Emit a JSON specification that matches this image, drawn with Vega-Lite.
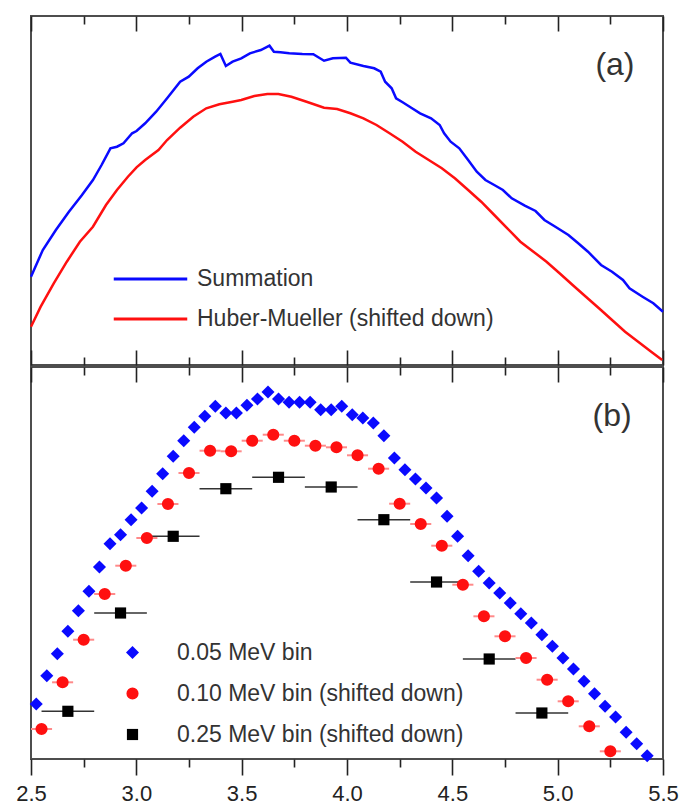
{
  "$schema": "https://vega.github.io/schema/vega-lite/v6.json",
  "padding": {"left": 14, "top": 14, "right": 5, "bottom": 0},
  "background": "white",
  "spacing": -4,
  "config": {
    "view": {"stroke": "#4d4d4d", "strokeWidth": 2},
    "font": "Liberation Sans",
    "axis": {"grid": false, "domain": false, "title": null, "labelFlush": false, "tickColor": "#222", "tickWidth": 1.6, "labelFont": "Liberation Sans", "labelFontSize": 22, "labelColor": "#222"},
    "legend": {"labelFont": "Liberation Sans", "labelFontSize": 23, "labelColor": "#333", "labelLimit": 500, "title": null}
  },
  "resolve": {"scale": {"color": "independent", "shape": "independent", "size": "independent", "x": "shared"}, "legend": {"color": "independent", "shape": "independent", "size": "independent"}},
  "datasets": {
    "spectra": [
      {"series": "Summation", "x": 2.500, "v": 88.3},
      {"series": "Summation", "x": 2.556, "v": 115},
      {"series": "Summation", "x": 2.618, "v": 135},
      {"series": "Summation", "x": 2.680, "v": 153.3},
      {"series": "Summation", "x": 2.742, "v": 170},
      {"series": "Summation", "x": 2.794, "v": 185},
      {"series": "Summation", "x": 2.835, "v": 200},
      {"series": "Summation", "x": 2.877, "v": 216.7},
      {"series": "Summation", "x": 2.908, "v": 218.3},
      {"series": "Summation", "x": 2.939, "v": 221.7},
      {"series": "Summation", "x": 2.980, "v": 231.7},
      {"series": "Summation", "x": 3.001, "v": 234},
      {"series": "Summation", "x": 3.042, "v": 241.7},
      {"series": "Summation", "x": 3.094, "v": 253.3},
      {"series": "Summation", "x": 3.146, "v": 266.7},
      {"series": "Summation", "x": 3.208, "v": 283.3},
      {"series": "Summation", "x": 3.249, "v": 288.3},
      {"series": "Summation", "x": 3.291, "v": 296.7},
      {"series": "Summation", "x": 3.332, "v": 303.3},
      {"series": "Summation", "x": 3.374, "v": 308.3},
      {"series": "Summation", "x": 3.399, "v": 311},
      {"series": "Summation", "x": 3.425, "v": 299},
      {"series": "Summation", "x": 3.457, "v": 303.3},
      {"series": "Summation", "x": 3.498, "v": 306.7},
      {"series": "Summation", "x": 3.539, "v": 311.7},
      {"series": "Summation", "x": 3.591, "v": 315},
      {"series": "Summation", "x": 3.632, "v": 319.3},
      {"series": "Summation", "x": 3.653, "v": 313.3},
      {"series": "Summation", "x": 3.684, "v": 312.7},
      {"series": "Summation", "x": 3.726, "v": 311.7},
      {"series": "Summation", "x": 3.788, "v": 311},
      {"series": "Summation", "x": 3.840, "v": 310.7},
      {"series": "Summation", "x": 3.891, "v": 304.3},
      {"series": "Summation", "x": 3.933, "v": 306.7},
      {"series": "Summation", "x": 3.995, "v": 307.3},
      {"series": "Summation", "x": 4.016, "v": 302.3},
      {"series": "Summation", "x": 4.078, "v": 299},
      {"series": "Summation", "x": 4.129, "v": 296.7},
      {"series": "Summation", "x": 4.160, "v": 293.3},
      {"series": "Summation", "x": 4.181, "v": 283.3},
      {"series": "Summation", "x": 4.212, "v": 276.7},
      {"series": "Summation", "x": 4.233, "v": 266.7},
      {"series": "Summation", "x": 4.264, "v": 262.7},
      {"series": "Summation", "x": 4.305, "v": 257.3},
      {"series": "Summation", "x": 4.347, "v": 251.7},
      {"series": "Summation", "x": 4.399, "v": 246.7},
      {"series": "Summation", "x": 4.440, "v": 240},
      {"series": "Summation", "x": 4.461, "v": 231.7},
      {"series": "Summation", "x": 4.492, "v": 223.3},
      {"series": "Summation", "x": 4.533, "v": 216.7},
      {"series": "Summation", "x": 4.575, "v": 205},
      {"series": "Summation", "x": 4.616, "v": 193.3},
      {"series": "Summation", "x": 4.657, "v": 185},
      {"series": "Summation", "x": 4.699, "v": 180},
      {"series": "Summation", "x": 4.740, "v": 175},
      {"series": "Summation", "x": 4.782, "v": 166.7},
      {"series": "Summation", "x": 4.844, "v": 159.3},
      {"series": "Summation", "x": 4.895, "v": 154},
      {"series": "Summation", "x": 4.937, "v": 145},
      {"series": "Summation", "x": 4.989, "v": 138.3},
      {"series": "Summation", "x": 5.051, "v": 130},
      {"series": "Summation", "x": 5.092, "v": 122.7},
      {"series": "Summation", "x": 5.144, "v": 113.3},
      {"series": "Summation", "x": 5.206, "v": 100},
      {"series": "Summation", "x": 5.258, "v": 93.3},
      {"series": "Summation", "x": 5.310, "v": 85},
      {"series": "Summation", "x": 5.341, "v": 76.7},
      {"series": "Summation", "x": 5.403, "v": 68.3},
      {"series": "Summation", "x": 5.454, "v": 61.7},
      {"series": "Summation", "x": 5.500, "v": 53.3},
      {"series": "Huber-Mueller (shifted down)", "x": 2.500, "v": 38.3},
      {"series": "Huber-Mueller (shifted down)", "x": 2.546, "v": 58.3},
      {"series": "Huber-Mueller (shifted down)", "x": 2.608, "v": 81.7},
      {"series": "Huber-Mueller (shifted down)", "x": 2.670, "v": 103.3},
      {"series": "Huber-Mueller (shifted down)", "x": 2.732, "v": 123.3},
      {"series": "Huber-Mueller (shifted down)", "x": 2.794, "v": 138.3},
      {"series": "Huber-Mueller (shifted down)", "x": 2.856, "v": 160},
      {"series": "Huber-Mueller (shifted down)", "x": 2.908, "v": 175},
      {"series": "Huber-Mueller (shifted down)", "x": 2.960, "v": 188.3},
      {"series": "Huber-Mueller (shifted down)", "x": 3.001, "v": 197.7},
      {"series": "Huber-Mueller (shifted down)", "x": 3.042, "v": 205},
      {"series": "Huber-Mueller (shifted down)", "x": 3.105, "v": 215},
      {"series": "Huber-Mueller (shifted down)", "x": 3.146, "v": 225},
      {"series": "Huber-Mueller (shifted down)", "x": 3.208, "v": 237.3},
      {"series": "Huber-Mueller (shifted down)", "x": 3.270, "v": 248.3},
      {"series": "Huber-Mueller (shifted down)", "x": 3.332, "v": 256.7},
      {"series": "Huber-Mueller (shifted down)", "x": 3.394, "v": 260.7},
      {"series": "Huber-Mueller (shifted down)", "x": 3.457, "v": 263.3},
      {"series": "Huber-Mueller (shifted down)", "x": 3.498, "v": 265},
      {"series": "Huber-Mueller (shifted down)", "x": 3.560, "v": 269},
      {"series": "Huber-Mueller (shifted down)", "x": 3.622, "v": 271},
      {"series": "Huber-Mueller (shifted down)", "x": 3.674, "v": 271},
      {"series": "Huber-Mueller (shifted down)", "x": 3.736, "v": 268.3},
      {"series": "Huber-Mueller (shifted down)", "x": 3.808, "v": 263.3},
      {"series": "Huber-Mueller (shifted down)", "x": 3.891, "v": 257.3},
      {"series": "Huber-Mueller (shifted down)", "x": 3.953, "v": 256},
      {"series": "Huber-Mueller (shifted down)", "x": 4.016, "v": 251.7},
      {"series": "Huber-Mueller (shifted down)", "x": 4.078, "v": 246.7},
      {"series": "Huber-Mueller (shifted down)", "x": 4.140, "v": 240},
      {"series": "Huber-Mueller (shifted down)", "x": 4.202, "v": 231.7},
      {"series": "Huber-Mueller (shifted down)", "x": 4.264, "v": 223.3},
      {"series": "Huber-Mueller (shifted down)", "x": 4.326, "v": 213.3},
      {"series": "Huber-Mueller (shifted down)", "x": 4.388, "v": 205},
      {"series": "Huber-Mueller (shifted down)", "x": 4.450, "v": 196.7},
      {"series": "Huber-Mueller (shifted down)", "x": 4.512, "v": 186.7},
      {"series": "Huber-Mueller (shifted down)", "x": 4.575, "v": 175},
      {"series": "Huber-Mueller (shifted down)", "x": 4.637, "v": 163.3},
      {"series": "Huber-Mueller (shifted down)", "x": 4.699, "v": 150},
      {"series": "Huber-Mueller (shifted down)", "x": 4.761, "v": 136.7},
      {"series": "Huber-Mueller (shifted down)", "x": 4.823, "v": 123.3},
      {"series": "Huber-Mueller (shifted down)", "x": 4.885, "v": 113.3},
      {"series": "Huber-Mueller (shifted down)", "x": 4.947, "v": 103.3},
      {"series": "Huber-Mueller (shifted down)", "x": 5.009, "v": 91.7},
      {"series": "Huber-Mueller (shifted down)", "x": 5.071, "v": 80},
      {"series": "Huber-Mueller (shifted down)", "x": 5.134, "v": 68.3},
      {"series": "Huber-Mueller (shifted down)", "x": 5.196, "v": 56.7},
      {"series": "Huber-Mueller (shifted down)", "x": 5.258, "v": 45},
      {"series": "Huber-Mueller (shifted down)", "x": 5.320, "v": 33.3},
      {"series": "Huber-Mueller (shifted down)", "x": 5.382, "v": 23.3},
      {"series": "Huber-Mueller (shifted down)", "x": 5.444, "v": 13.3},
      {"series": "Huber-Mueller (shifted down)", "x": 5.496, "v": 5}
    ],
    "binned": [
      {"series": "0.05 MeV bin", "x": 2.525, "v": 55},
      {"series": "0.05 MeV bin", "x": 2.575, "v": 83.3},
      {"series": "0.05 MeV bin", "x": 2.625, "v": 105.3},
      {"series": "0.05 MeV bin", "x": 2.675, "v": 127.7},
      {"series": "0.05 MeV bin", "x": 2.725, "v": 148.3},
      {"series": "0.05 MeV bin", "x": 2.775, "v": 167.7},
      {"series": "0.05 MeV bin", "x": 2.825, "v": 192},
      {"series": "0.05 MeV bin", "x": 2.875, "v": 215.3},
      {"series": "0.05 MeV bin", "x": 2.925, "v": 224.3},
      {"series": "0.05 MeV bin", "x": 2.975, "v": 239.3},
      {"series": "0.05 MeV bin", "x": 3.025, "v": 251},
      {"series": "0.05 MeV bin", "x": 3.075, "v": 267.7},
      {"series": "0.05 MeV bin", "x": 3.125, "v": 285.3},
      {"series": "0.05 MeV bin", "x": 3.175, "v": 302.7},
      {"series": "0.05 MeV bin", "x": 3.225, "v": 318.3},
      {"series": "0.05 MeV bin", "x": 3.275, "v": 331.7},
      {"series": "0.05 MeV bin", "x": 3.325, "v": 342.7},
      {"series": "0.05 MeV bin", "x": 3.375, "v": 352.7},
      {"series": "0.05 MeV bin", "x": 3.425, "v": 346},
      {"series": "0.05 MeV bin", "x": 3.475, "v": 346},
      {"series": "0.05 MeV bin", "x": 3.525, "v": 353.7},
      {"series": "0.05 MeV bin", "x": 3.575, "v": 360},
      {"series": "0.05 MeV bin", "x": 3.625, "v": 367},
      {"series": "0.05 MeV bin", "x": 3.675, "v": 360},
      {"series": "0.05 MeV bin", "x": 3.725, "v": 356.7},
      {"series": "0.05 MeV bin", "x": 3.775, "v": 356.7},
      {"series": "0.05 MeV bin", "x": 3.825, "v": 356.7},
      {"series": "0.05 MeV bin", "x": 3.875, "v": 349.3},
      {"series": "0.05 MeV bin", "x": 3.925, "v": 349.3},
      {"series": "0.05 MeV bin", "x": 3.975, "v": 352.7},
      {"series": "0.05 MeV bin", "x": 4.025, "v": 344.3},
      {"series": "0.05 MeV bin", "x": 4.075, "v": 341},
      {"series": "0.05 MeV bin", "x": 4.125, "v": 336},
      {"series": "0.05 MeV bin", "x": 4.175, "v": 323.3},
      {"series": "0.05 MeV bin", "x": 4.225, "v": 301},
      {"series": "0.05 MeV bin", "x": 4.275, "v": 289.3},
      {"series": "0.05 MeV bin", "x": 4.325, "v": 280},
      {"series": "0.05 MeV bin", "x": 4.375, "v": 271},
      {"series": "0.05 MeV bin", "x": 4.425, "v": 261},
      {"series": "0.05 MeV bin", "x": 4.475, "v": 242.7},
      {"series": "0.05 MeV bin", "x": 4.525, "v": 222.7},
      {"series": "0.05 MeV bin", "x": 4.575, "v": 203.3},
      {"series": "0.05 MeV bin", "x": 4.625, "v": 187.7},
      {"series": "0.05 MeV bin", "x": 4.675, "v": 176},
      {"series": "0.05 MeV bin", "x": 4.725, "v": 166},
      {"series": "0.05 MeV bin", "x": 4.775, "v": 156},
      {"series": "0.05 MeV bin", "x": 4.825, "v": 145.3},
      {"series": "0.05 MeV bin", "x": 4.875, "v": 136},
      {"series": "0.05 MeV bin", "x": 4.925, "v": 124.3},
      {"series": "0.05 MeV bin", "x": 4.975, "v": 112.7},
      {"series": "0.05 MeV bin", "x": 5.025, "v": 101},
      {"series": "0.05 MeV bin", "x": 5.075, "v": 90},
      {"series": "0.05 MeV bin", "x": 5.125, "v": 77.7},
      {"series": "0.05 MeV bin", "x": 5.175, "v": 65.3},
      {"series": "0.05 MeV bin", "x": 5.225, "v": 52.7},
      {"series": "0.05 MeV bin", "x": 5.275, "v": 42},
      {"series": "0.05 MeV bin", "x": 5.325, "v": 26.7},
      {"series": "0.05 MeV bin", "x": 5.375, "v": 15.3},
      {"series": "0.05 MeV bin", "x": 5.425, "v": 3.3},
      {"series": "0.10 MeV bin (shifted down)", "x": 2.55, "lo": 2.50, "hi": 2.60, "v": 30},
      {"series": "0.10 MeV bin (shifted down)", "x": 2.65, "lo": 2.60, "hi": 2.70, "v": 76.7},
      {"series": "0.10 MeV bin (shifted down)", "x": 2.75, "lo": 2.70, "hi": 2.80, "v": 119.3},
      {"series": "0.10 MeV bin (shifted down)", "x": 2.85, "lo": 2.80, "hi": 2.90, "v": 165},
      {"series": "0.10 MeV bin (shifted down)", "x": 2.95, "lo": 2.90, "hi": 3.00, "v": 193.3},
      {"series": "0.10 MeV bin (shifted down)", "x": 3.05, "lo": 3.00, "hi": 3.10, "v": 221},
      {"series": "0.10 MeV bin (shifted down)", "x": 3.15, "lo": 3.10, "hi": 3.20, "v": 255},
      {"series": "0.10 MeV bin (shifted down)", "x": 3.25, "lo": 3.20, "hi": 3.30, "v": 286},
      {"series": "0.10 MeV bin (shifted down)", "x": 3.35, "lo": 3.30, "hi": 3.40, "v": 308.3},
      {"series": "0.10 MeV bin (shifted down)", "x": 3.45, "lo": 3.40, "hi": 3.50, "v": 307.7},
      {"series": "0.10 MeV bin (shifted down)", "x": 3.55, "lo": 3.50, "hi": 3.60, "v": 318.3},
      {"series": "0.10 MeV bin (shifted down)", "x": 3.65, "lo": 3.60, "hi": 3.70, "v": 324.3},
      {"series": "0.10 MeV bin (shifted down)", "x": 3.75, "lo": 3.70, "hi": 3.80, "v": 318.3},
      {"series": "0.10 MeV bin (shifted down)", "x": 3.85, "lo": 3.80, "hi": 3.90, "v": 313.3},
      {"series": "0.10 MeV bin (shifted down)", "x": 3.95, "lo": 3.90, "hi": 4.00, "v": 311.7},
      {"series": "0.10 MeV bin (shifted down)", "x": 4.05, "lo": 4.00, "hi": 4.10, "v": 303.7},
      {"series": "0.10 MeV bin (shifted down)", "x": 4.15, "lo": 4.10, "hi": 4.20, "v": 290.3},
      {"series": "0.10 MeV bin (shifted down)", "x": 4.25, "lo": 4.20, "hi": 4.30, "v": 255.3},
      {"series": "0.10 MeV bin (shifted down)", "x": 4.35, "lo": 4.30, "hi": 4.40, "v": 235},
      {"series": "0.10 MeV bin (shifted down)", "x": 4.45, "lo": 4.40, "hi": 4.50, "v": 213.3},
      {"series": "0.10 MeV bin (shifted down)", "x": 4.55, "lo": 4.50, "hi": 4.60, "v": 174.3},
      {"series": "0.10 MeV bin (shifted down)", "x": 4.65, "lo": 4.60, "hi": 4.70, "v": 142.7},
      {"series": "0.10 MeV bin (shifted down)", "x": 4.75, "lo": 4.70, "hi": 4.80, "v": 122.7},
      {"series": "0.10 MeV bin (shifted down)", "x": 4.85, "lo": 4.80, "hi": 4.90, "v": 101},
      {"series": "0.10 MeV bin (shifted down)", "x": 4.95, "lo": 4.90, "hi": 5.00, "v": 79.3},
      {"series": "0.10 MeV bin (shifted down)", "x": 5.05, "lo": 5.00, "hi": 5.10, "v": 57.7},
      {"series": "0.10 MeV bin (shifted down)", "x": 5.15, "lo": 5.10, "hi": 5.20, "v": 32.7},
      {"series": "0.10 MeV bin (shifted down)", "x": 5.25, "lo": 5.20, "hi": 5.30, "v": 7.7},
      {"series": "0.25 MeV bin (shifted down)", "x": 2.675, "lo": 2.55, "hi": 2.80, "v": 47.7},
      {"series": "0.25 MeV bin (shifted down)", "x": 2.925, "lo": 2.80, "hi": 3.05, "v": 146},
      {"series": "0.25 MeV bin (shifted down)", "x": 3.175, "lo": 3.05, "hi": 3.30, "v": 222.7},
      {"series": "0.25 MeV bin (shifted down)", "x": 3.425, "lo": 3.30, "hi": 3.55, "v": 270.3},
      {"series": "0.25 MeV bin (shifted down)", "x": 3.675, "lo": 3.55, "hi": 3.80, "v": 281.7},
      {"series": "0.25 MeV bin (shifted down)", "x": 3.925, "lo": 3.80, "hi": 4.05, "v": 272},
      {"series": "0.25 MeV bin (shifted down)", "x": 4.175, "lo": 4.05, "hi": 4.30, "v": 239.3},
      {"series": "0.25 MeV bin (shifted down)", "x": 4.425, "lo": 4.30, "hi": 4.55, "v": 177},
      {"series": "0.25 MeV bin (shifted down)", "x": 4.675, "lo": 4.55, "hi": 4.80, "v": 100},
      {"series": "0.25 MeV bin (shifted down)", "x": 4.925, "lo": 4.80, "hi": 5.05, "v": 46}
    ]
  },
  "vconcat": [
    {
      "width": 632,
      "height": 349,
      "layer": [
        {
          "data": {"name": "spectra"},
          "mark": {"type": "line", "strokeWidth": 2.5},
          "encoding": {
            "x": {"field": "x", "type": "quantitative", "scale": {"domain": [2.5, 5.5], "nice": false, "zero": false},
              "axis": {"orient": "top", "values": [2.5, 2.75, 3, 3.25, 3.5, 3.75, 4, 4.25, 4.5, 4.75, 5, 5.25, 5.5], "labels": false, "maxExtent": 0,
                "tickSize": {"condition": {"test": "(datum.value * 2) % 1 == 0", "value": -15}, "value": -8}}},
            "y": {"field": "v", "type": "quantitative", "scale": {"domain": [0, 349], "nice": false, "zero": false}, "axis": null},
            "color": {"field": "series", "type": "nominal",
              "scale": {"domain": ["Summation", "Huber-Mueller (shifted down)"], "range": ["#0a0aff", "#ff1010"]},
              "legend": {"orient": "none", "legendX": 81, "legendY": 251, "title": null, "symbolType": "stroke", "symbolSize": 5400, "symbolStrokeWidth": 3, "labelOffset": 8, "clipHeight": 24, "rowPadding": 16}}
          }
        },
        {
          "data": {"values": [{"label": "(a)"}]},
          "mark": {"type": "text", "fontSize": 32, "font": "Liberation Sans", "color": "#333", "align": "center", "baseline": "alphabetic"},
          "encoding": {
            "text": {"field": "label"},
            "x": {"datum": 5.272, "type": "quantitative",
              "axis": {"orient": "bottom", "values": [2.5, 2.75, 3, 3.25, 3.5, 3.75, 4, 4.25, 4.5, 4.75, 5, 5.25, 5.5], "labels": false, "maxExtent": 0,
                "tickSize": {"condition": {"test": "(datum.value * 2) % 1 == 0", "value": -15}, "value": -8}}},
            "y": {"datum": 290, "type": "quantitative"}
          }
        }
      ],
      "resolve": {"axis": {"x": "independent"}}
    },
    {
      "width": 632,
      "height": 392,
      "data": {"name": "binned"},
      "layer": [
        {
          "transform": [{"filter": "datum.series == '0.25 MeV bin (shifted down)'"}],
          "mark": {"type": "rule", "color": "#333", "strokeWidth": 1.5},
          "encoding": {
            "x": {"field": "lo", "type": "quantitative", "scale": {"domain": [2.5, 5.5], "nice": false, "zero": false},
              "axis": {"orient": "top", "values": [2.5, 2.75, 3, 3.25, 3.5, 3.75, 4, 4.25, 4.5, 4.75, 5, 5.25, 5.5], "labels": false, "maxExtent": 0,
                "tickSize": {"condition": {"test": "(datum.value * 2) % 1 == 0", "value": -15}, "value": -8}}},
            "x2": {"field": "hi"},
            "y": {"field": "v", "type": "quantitative", "scale": {"domain": [0, 392], "nice": false, "zero": false}, "axis": null}
          }
        },
        {
          "transform": [{"filter": "datum.series == '0.10 MeV bin (shifted down)'"}],
          "mark": {"type": "rule", "color": "#ff8a8a", "strokeWidth": 2},
          "encoding": {
            "x": {"field": "lo", "type": "quantitative", "axis": null},
            "x2": {"field": "hi"},
            "y": {"field": "v", "type": "quantitative"}
          }
        },
        {
          "mark": {"type": "point", "filled": true, "opacity": 1},
          "encoding": {
            "x": {"field": "x", "type": "quantitative",
              "axis": {"orient": "bottom", "values": [2.5, 2.75, 3, 3.25, 3.5, 3.75, 4, 4.25, 4.5, 4.75, 5, 5.25, 5.5],
                "labelExpr": "(datum.value * 2) % 1 == 0 ? format(datum.value, '.1f') : ''",
                "labelPadding": 8,
                "tickSize": {"condition": {"test": "(datum.value * 2) % 1 == 0", "value": 16}, "value": 8}}},
            "y": {"field": "v", "type": "quantitative"},
            "shape": {"field": "series", "type": "nominal",
              "scale": {"domain": ["0.05 MeV bin", "0.10 MeV bin (shifted down)", "0.25 MeV bin (shifted down)"], "range": ["diamond", "circle", "square"]},
              "legend": {"orient": "none", "legendX": 90, "legendY": 274, "title": null, "labelOffset": 33, "rowPadding": 17}},
            "color": {"field": "series", "type": "nominal",
              "scale": {"domain": ["0.05 MeV bin", "0.10 MeV bin (shifted down)", "0.25 MeV bin (shifted down)"], "range": ["#0a0aff", "#ff1010", "#000000"]},
              "legend": {"orient": "none", "legendX": 90, "legendY": 274, "title": null, "labelOffset": 33, "rowPadding": 17}},
            "size": {"field": "series", "type": "nominal",
              "scale": {"domain": ["0.05 MeV bin", "0.10 MeV bin (shifted down)", "0.25 MeV bin (shifted down)"], "range": [170, 125, 100]},
              "legend": {"orient": "none", "legendX": 90, "legendY": 274, "title": null, "labelOffset": 33, "rowPadding": 17}}
          }
        },
        {
          "data": {"values": [{"label": "(b)"}]},
          "mark": {"type": "text", "fontSize": 32, "font": "Liberation Sans", "color": "#333", "align": "center", "baseline": "alphabetic"},
          "encoding": {
            "text": {"field": "label"},
            "x": {"datum": 5.258, "type": "quantitative", "axis": null},
            "y": {"datum": 333, "type": "quantitative"}
          }
        }
      ],
      "resolve": {"axis": {"x": "independent"}}
    }
  ]
}
